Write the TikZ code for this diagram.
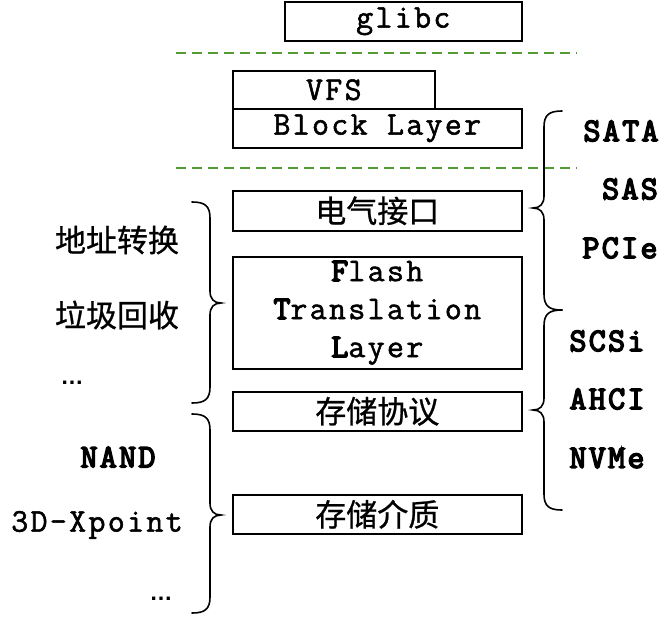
\documentclass[tikz,border=0pt]{standalone}
\usepackage{fontspec}
\newfontfamily\mono{Latin Modern Mono}[LetterSpace=7, FakeBold=1.6]
\newfontfamily\monob{Latin Modern Mono}[LetterSpace=7, FakeBold=4.5]
\newfontfamily\cjk{Noto Sans CJK SC}[FakeBold=0.8]
\newfontfamily\lsans{Liberation Sans}
\definecolor{dashgreen}{RGB}{80,155,50}
\newcommand\mybrace[5]{%
  \begin{scope}[shift={(#2,0)}, xscale=#1]
  \draw[brc] (0,#3) .. controls (13,#3) and (18,#3+4) .. (18,#3+16) -- (18,#4-12)
    .. controls (18,#4-4) and (22,#4) .. (29,#4)
    .. controls (22,#4) and (18,#4+4) .. (18,#4+12) -- (18,#5-16)
    .. controls (18,#5-4) and (13,#5) .. (0,#5);
  \end{scope}}
\begin{document}
\begin{tikzpicture}[x=1pt,y=-1pt,
  layer/.style={draw, line width=1.6pt, inner sep=0pt, minimum width=289pt, anchor=north west, align=center},
  mtext/.style={font=\mono\fontsize{33}{38}\selectfont},
  ctext/.style={font=\cjk\fontsize{31}{36}\selectfont},
  btext/.style={font=\monob\fontsize{33}{38}\selectfont},
  dots/.style={font=\lsans\bfseries\fontsize{23}{26}\selectfont},
  sep/.style={draw=dashgreen, line width=1.5pt, dash pattern=on 10pt off 6pt},
  brc/.style={draw, line width=1.6pt, line cap=round}]
\useasboundingbox (0,0) rectangle (670,622);

% boxes
\node[layer, mtext, minimum width=237pt, minimum height=39pt] (glibc) at (284,1) {glibc};
\node[layer, mtext, minimum width=202pt, minimum height=38pt] (vfs) at (232,70) {VFS};
\node[layer, mtext, minimum height=39pt] (block) at (232,108) {Block Layer};
\node[layer, ctext, minimum height=40pt] (elec) at (232,190) {电气接口};
\node[layer, mtext, minimum height=112pt] (ftl) at (232,256)
  {{\monob F}lash\\{\monob T}ranslation\\{\monob L}ayer};
\node[layer, ctext, minimum height=39pt] (proto) at (232,391) {存储协议};
\node[layer, ctext, minimum height=39pt] (media) at (232,494) {存储介质};

% separators
\coordinate (s1a) at (176,53);  \coordinate (s1b) at (577,53);
\coordinate (s2a) at (176,168); \coordinate (s2b) at (577,168);
\draw[sep] (s1a) -- (s1b);
\draw[sep] (s2a) -- (s2b);

% braces
\mybrace{1}{192}{202}{303}{403}
\mybrace{1}{192}{414}{515}{613}
\mybrace{-1}{562}{111}{208}{310}
\mybrace{-1}{562}{310}{410}{510}

% left labels
\node[ctext] (addr) at (117,240) {地址转换};
\node[ctext] (gc) at (117,315) {垃圾回收};
\node[dots] (etc1) at (72,383) {…};
\node[btext] (nand) at (118,457) {NAND};
\node[mtext] (xp) at (97,525) {3D-Xpoint};
\node[dots] (etc2) at (161,599) {…};

% right labels
\node[btext] (sata) at (621,131) {SATA};
\node[btext] (sas) at (630,189) {SAS};
\node[btext] (pcie) at (620,248) {PCIe};
\node[btext] (scsi) at (607,341) {SCSi};
\node[btext] (ahci) at (607,399) {AHCI};
\node[btext] (nvme) at (607,458) {NVMe};
\end{tikzpicture}
\end{document}
